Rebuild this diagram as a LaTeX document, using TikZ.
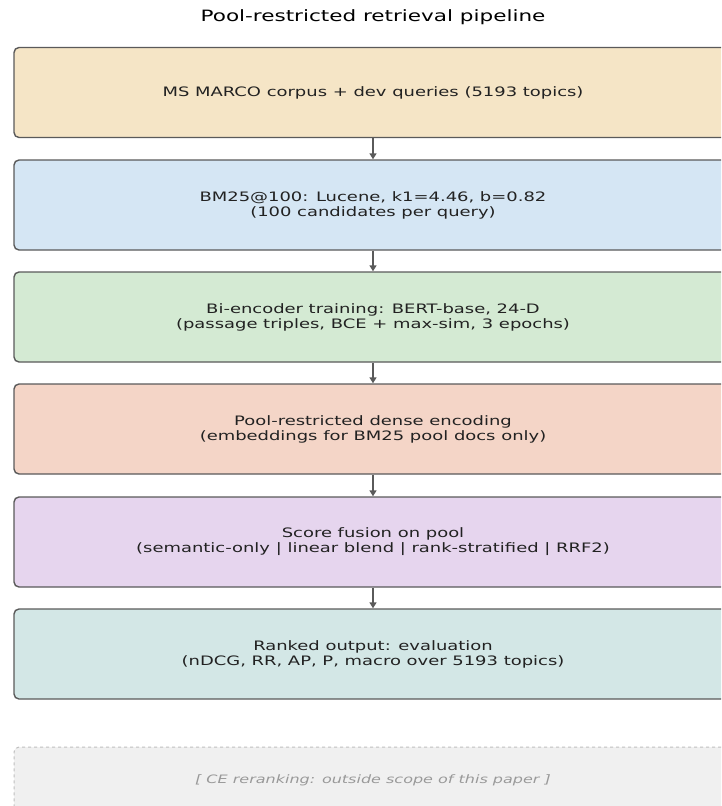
\documentclass[tikz,border=0pt]{standalone}
\usepackage{fontspec}
\setmainfont{DejaVu Sans}[FakeStretch=1.38]
\usetikzlibrary{arrows.meta}

\definecolor{edgegray}{HTML}{5A5A5A}
\definecolor{txtgray}{HTML}{222222}
\definecolor{cCorpus}{HTML}{F5E5C6}
\definecolor{cBM}{HTML}{D5E6F4}
\definecolor{cBi}{HTML}{D4EAD3}
\definecolor{cPool}{HTML}{F4D5C7}
\definecolor{cFuse}{HTML}{E6D5EE}
\definecolor{cRank}{HTML}{D3E7E6}
\definecolor{cCE}{HTML}{F0F0F0}

\tikzset{
  stage/.style={draw=edgegray, line width=1.4pt, rounded corners=5pt,
    minimum width=718pt, minimum height=90pt, align=center,
    text=txtgray, font=\fontsize{13}{15}\selectfont},
  outscope/.style={draw=gray!50, dashed, line width=1pt, rounded corners=5pt,
    fill=cCE, minimum width=718pt, minimum height=66pt,
    text=gray!80, font=\fontsize{11.6}{14}\selectfont\itshape},
  flow/.style={-{Triangle[length=6pt,width=7pt]}, draw=edgegray, line width=1.6pt}
}

\begin{document}
\begin{tikzpicture}[x=1pt,y=-1pt]
    \useasboundingbox (0,0) rectangle (721,806);
    \clip (0,0) rectangle (721,806);

    \node (title) at (373,17) {\fontsize{15.6}{18}\selectfont Pool-restricted retrieval pipeline};

    \node[stage, fill=cCorpus] (corpus) at (373,92.5) {MS MARCO corpus + dev queries (5193 topics)};
    \node[stage, fill=cBM] (bm) at (373,205) {BM25@100: Lucene, k1=4.46, b=0.82\\(100 candidates per query)};
    \node[stage, fill=cBi] (biencoder) at (373,317) {Bi-encoder training: BERT-base, 24-D\\(passage triples, BCE + max-sim, 3 epochs)};
    \node[stage, fill=cPool] (dense) at (373,429) {Pool-restricted dense encoding\\(embeddings for BM25 pool docs only)};
    \node[stage, fill=cFuse] (fusion) at (373,542) {Score fusion on pool\\(semantic-only | linear blend | rank-stratified | RRF2)};
    \node[stage, fill=cRank] (ranked) at (373,654) {Ranked output: evaluation\\(nDCG, RR, AP, P, macro over 5193 topics)};

    \node[outscope] (ce) at (373,780) {[ CE reranking: outside scope of this paper ]};

    \draw[flow] (corpus) -- (bm);
    \draw[flow] (bm) -- (biencoder);
    \draw[flow] (biencoder) -- (dense);
    \draw[flow] (dense) -- (fusion);
    \draw[flow] (fusion) -- (ranked);

\end{tikzpicture}
\end{document}
